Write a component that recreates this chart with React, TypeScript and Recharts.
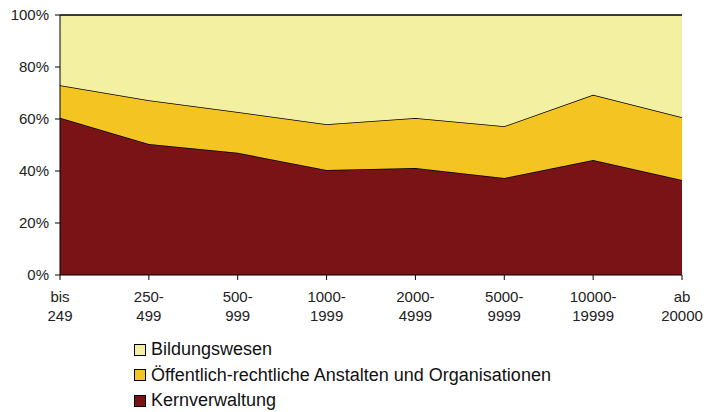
import React from 'react';
import { AreaChart, Area, XAxis, YAxis } from 'recharts';

// Größenklassen (Einwohner) – zweizeilige Achsenbeschriftung
const categories = ['bis\n249', '250-\n499', '500-\n999', '1000-\n1999', '2000-\n4999', '5000-\n9999', '10000-\n19999', 'ab\n20000'];

// Anteile in Prozent (gestapelt, Summe 100)
const kernverwaltung = [60.5, 50.4, 47.0, 40.4, 41.2, 37.3, 44.2, 36.5];
const oeffentlich = [12.5, 16.8, 15.7, 17.6, 19.2, 19.9, 25.1, 24.2];
const bildungswesen = kernverwaltung.map((k, i) => +(100 - k - oeffentlich[i]).toFixed(1));

const yTicks = [0, 20, 40, 60, 80, 100];

const data = categories.map((name, i) => ({
  name,
  kern: kernverwaltung[i],
  oeff: oeffentlich[i],
  bild: bildungswesen[i],
}));

const FONT = '"Liberation Sans", Arial, sans-serif';

const legendItems = [
  { label: 'Bildungswesen', color: '#F3F0A2' },
  { label: 'Öffentlich-rechtliche Anstalten und Organisationen', color: '#F4C522' },
  { label: 'Kernverwaltung', color: '#7A1315' },
];

const XTick = ({ x, y, payload }: any) => {
  const lines = String(payload.value).split('\n');
  return (
    <text x={x} y={y} textAnchor="middle" fontFamily={FONT} fontSize={15} fill="#222">
      {lines.map((l, i) => (
        <tspan key={i} x={x} dy={i === 0 ? 20 : 18.5}>{l}</tspan>
      ))}
    </text>
  );
};

const YTick = ({ x, y, payload }: any) => (
  <text x={x - 4} y={y} dy={5} textAnchor="end" fontFamily={FONT} fontSize={15} fill="#222">
    {`${payload.value}%`}
  </text>
);

export default function App() {
  return (
    <div style={{ position: 'absolute', left: 0, top: 0, width: 709, height: 412, background: '#fff' }}>
      <AreaChart width={709} height={330} data={data} margin={{ top: 15, right: 27, left: 0, bottom: 0 }}>
        <XAxis
          dataKey="name"
          tick={<XTick />}
          tickLine={{ stroke: '#000' }}
          tickSize={5}
          axisLine={{ stroke: '#000' }}
          height={55}
          interval={0}
        />
        <YAxis
          domain={[0, 100]}
          ticks={yTicks}
          tick={<YTick />}
          tickLine={{ stroke: '#000' }}
          tickSize={5}
          axisLine={{ stroke: '#000' }}
          width={60}
        />
        <YAxis yAxisId="right" orientation="right" width={0} tick={false} tickLine={false} axisLine={{ stroke: '#000' }} domain={[0, 100]} />
        <Area type="linear" dataKey="kern" stackId="a" fill="#7A1315" fillOpacity={1} stroke="#000" strokeWidth={1.5} isAnimationActive={false} />
        <Area type="linear" dataKey="oeff" stackId="a" fill="#F4C522" fillOpacity={1} stroke="#000" strokeWidth={1.5} isAnimationActive={false} />
        <Area type="linear" dataKey="bild" stackId="a" fill="#F3F0A2" fillOpacity={1} stroke="#000" strokeWidth={1.5} isAnimationActive={false} />
      </AreaChart>
      <div style={{ position: 'absolute', left: 134, top: 337, fontFamily: FONT, fontSize: 18, color: '#111' }}>
        {legendItems.map((it) => (
          <div key={it.label} style={{ display: 'flex', alignItems: 'center', height: 25.5 }}>
            <span style={{ width: 10, height: 10, background: it.color, border: '1px solid #000', marginRight: 5 }} />
            <span>{it.label}</span>
          </div>
        ))}
      </div>
    </div>
  );
}
